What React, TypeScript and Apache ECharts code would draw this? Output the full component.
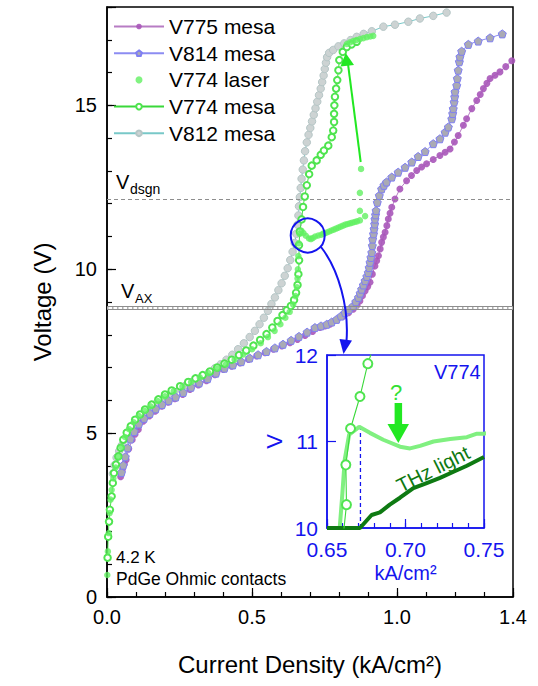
import React, { useEffect, useRef } from "react";
import * as echarts from "echarts";

const FONT = "'Liberation Sans', Arial, Helvetica, sans-serif";

// Current density (kA/cm²) vs. voltage (V) at 4.2 K
const v775Mesa: number[][] = [
  [0.047, 3.67], [0.054, 3.91], [0.060, 4.06], [0.066, 4.19], [0.075, 4.52], [0.087, 4.80], [0.097, 4.97],
  [0.108, 5.11], [0.125, 5.36], [0.146, 5.52], [0.166, 5.67], [0.189, 5.82], [0.211, 5.94], [0.234, 6.05],
  [0.261, 6.18], [0.286, 6.33], [0.315, 6.47], [0.343, 6.60], [0.372, 6.78], [0.401, 6.94], [0.430, 7.04],
  [0.459, 7.14], [0.488, 7.25], [0.516, 7.35], [0.545, 7.45], [0.574, 7.56], [0.603, 7.66], [0.631, 7.76],
  [0.657, 7.86], [0.683, 7.98], [0.709, 8.10], [0.734, 8.22], [0.752, 8.27], [0.769, 8.32], [0.792, 8.45],
  [0.815, 8.57], [0.833, 8.67], [0.849, 8.78], [0.862, 8.90], [0.872, 9.03], [0.881, 9.19], [0.890, 9.34],
  [0.899, 9.47], [0.907, 9.60], [0.915, 9.85], [0.924, 10.10], [0.930, 10.26], [0.936, 10.41], [0.942, 10.62],
  [0.947, 10.82], [0.953, 10.98], [0.959, 11.13], [0.965, 11.33], [0.970, 11.53], [0.976, 11.71], [0.982, 11.89],
  [0.993, 12.14], [1.010, 12.45], [1.033, 12.70], [1.050, 12.86], [1.068, 13.01], [1.085, 13.12], [1.102, 13.22],
  [1.125, 13.35], [1.148, 13.47], [1.166, 13.57], [1.183, 13.67], [1.198, 13.88], [1.211, 14.08], [1.229, 14.39],
  [1.240, 14.59], [1.258, 14.90], [1.275, 15.15], [1.287, 15.33], [1.298, 15.51], [1.310, 15.67], [1.321, 15.82],
  [1.338, 15.92], [1.355, 16.02], [1.375, 16.18], [1.396, 16.36],
];

const v814Mesa: number[][] = [
  [0.050, 3.80], [0.056, 4.02], [0.063, 4.28], [0.071, 4.55], [0.081, 4.82], [0.094, 5.05], [0.110, 5.28],
  [0.128, 5.45], [0.148, 5.60], [0.168, 5.74], [0.190, 5.87], [0.213, 5.99], [0.237, 6.10], [0.263, 6.24],
  [0.290, 6.40], [0.318, 6.53], [0.347, 6.66], [0.376, 6.83], [0.405, 6.98], [0.434, 7.08], [0.463, 7.18],
  [0.492, 7.29], [0.521, 7.39], [0.550, 7.49], [0.579, 7.60], [0.607, 7.71], [0.635, 7.83], [0.662, 7.95],
  [0.690, 8.08], [0.717, 8.22], [0.738, 8.27], [0.758, 8.32], [0.775, 8.39], [0.792, 8.47], [0.807, 8.57],
  [0.821, 8.68], [0.835, 8.77], [0.849, 8.88], [0.858, 9.01], [0.867, 9.14], [0.873, 9.27], [0.878, 9.39],
  [0.884, 9.52], [0.890, 9.65], [0.896, 9.78], [0.901, 9.90], [0.904, 10.05], [0.907, 10.21], [0.910, 10.36],
  [0.913, 10.51], [0.915, 10.72], [0.916, 10.92], [0.919, 11.08], [0.921, 11.23], [0.923, 11.38], [0.924, 11.53],
  [0.926, 11.66], [0.928, 11.79], [0.932, 12.04], [0.939, 12.25], [0.947, 12.45], [0.955, 12.56], [0.964, 12.66],
  [0.982, 12.81], [1.004, 12.96], [1.028, 13.11], [1.051, 13.27], [1.073, 13.44], [1.097, 13.59], [1.125, 13.83],
  [1.148, 13.98], [1.166, 14.18], [1.177, 14.34], [1.189, 14.59], [1.192, 14.75], [1.194, 14.90], [1.197, 15.10],
  [1.199, 15.26], [1.200, 15.41], [1.206, 15.61], [1.208, 15.82], [1.211, 16.07], [1.215, 16.33], [1.217, 16.48],
  [1.223, 16.65], [1.246, 16.86], [1.280, 16.96], [1.321, 17.06], [1.363, 17.18],
];

const v774Laser: number[][] = [
  [0.001, 0.67], [0.003, 1.39], [0.006, 1.95], [0.009, 2.56], [0.012, 2.97], [0.016, 3.27], [0.022, 3.62],
  [0.030, 3.95], [0.040, 4.28], [0.050, 4.58], [0.062, 4.88], [0.076, 5.12], [0.092, 5.33], [0.110, 5.52],
  [0.130, 5.68], [0.150, 5.82], [0.175, 5.98], [0.200, 6.12], [0.230, 6.28], [0.260, 6.42], [0.290, 6.56],
  [0.320, 6.70], [0.350, 6.83], [0.380, 6.97], [0.410, 7.10], [0.440, 7.24], [0.470, 7.40], [0.500, 7.56],
  [0.530, 7.74], [0.555, 7.93], [0.578, 8.12], [0.598, 8.32], [0.615, 8.52], [0.630, 8.70], [0.642, 8.92],
  [0.650, 9.18], [0.655, 9.45], [0.657, 9.72], [0.6581, 10.0], [0.6598, 10.40], [0.6613, 10.79], [0.6641, 11.08],
  [0.6705, 11.17], [0.6773, 11.10], [0.6858, 11.02], [0.6965, 10.94], [0.7029, 10.92], [0.7093, 10.95],
  [0.7178, 11.0], [0.7285, 11.03], [0.7391, 11.05], [0.7455, 11.09], [0.750, 11.09], [0.758, 11.12],
  [0.766, 11.15], [0.774, 11.18], [0.782, 11.21], [0.790, 11.24], [0.798, 11.27], [0.806, 11.30], [0.814, 11.33],
  [0.822, 11.36], [0.830, 11.38], [0.838, 11.40], [0.846, 11.42], [0.854, 11.44], [0.862, 11.46], [0.872, 11.49],
  [0.890, 11.62], [0.872, 11.78], [0.872, 12.33], [0.876, 13.06],
  [0.827, 16.87], [0.838, 16.92], [0.849, 16.96], [0.860, 16.99], [0.872, 17.02], [0.884, 17.05], [0.896, 17.08],
  [0.908, 17.10], [0.918, 17.12],
];

const v774Mesa: number[][] = [
  [0.002, 1.20], [0.004, 1.84], [0.007, 2.30], [0.010, 2.66], [0.016, 3.07], [0.020, 3.48], [0.024, 3.78],
  [0.031, 4.04], [0.039, 4.29], [0.047, 4.55], [0.056, 4.80], [0.068, 5.01], [0.082, 5.21], [0.097, 5.41],
  [0.114, 5.57], [0.131, 5.72], [0.154, 5.87], [0.177, 6.03], [0.200, 6.18], [0.223, 6.30], [0.252, 6.43],
  [0.280, 6.56], [0.305, 6.67], [0.330, 6.77], [0.355, 6.88], [0.380, 7.00], [0.405, 7.12], [0.430, 7.24],
  [0.455, 7.38], [0.480, 7.52], [0.505, 7.67], [0.528, 7.84], [0.550, 8.02], [0.570, 8.22], [0.588, 8.42],
  [0.605, 8.60], [0.620, 8.75], [0.634, 8.88], [0.645, 9.06], [0.652, 9.28], [0.657, 9.52], [0.660, 9.85],
  [0.6624, 10.27], [0.662, 10.73], [0.665, 11.15], [0.671, 11.52], [0.676, 11.90], [0.682, 12.22],
  [0.689, 12.56], [0.697, 12.90], [0.706, 13.16], [0.723, 13.32], [0.737, 13.49], [0.748, 13.62],
  [0.763, 13.77], [0.775, 14.03], [0.780, 14.23], [0.783, 14.49], [0.783, 14.74], [0.784, 15.00],
  [0.786, 15.26], [0.790, 15.51], [0.794, 15.77], [0.798, 16.07], [0.801, 16.38], [0.813, 16.63],
  [0.827, 16.78], [0.844, 16.86], [0.861, 16.94],
];

const v812Mesa: number[][] = [
  [0.020, 3.76], [0.026, 4.02], [0.033, 4.25], [0.042, 4.45], [0.051, 4.63], [0.060, 4.80], [0.070, 4.98],
  [0.080, 5.13], [0.092, 5.27], [0.105, 5.42], [0.120, 5.56], [0.137, 5.70], [0.155, 5.83], [0.173, 5.94],
  [0.192, 6.05], [0.212, 6.16], [0.232, 6.26], [0.252, 6.36], [0.272, 6.46], [0.292, 6.56], [0.312, 6.65],
  [0.332, 6.75], [0.352, 6.86], [0.372, 6.98], [0.392, 7.10], [0.412, 7.24], [0.432, 7.39], [0.452, 7.56],
  [0.472, 7.74], [0.492, 7.93], [0.510, 8.12], [0.526, 8.32], [0.541, 8.52], [0.555, 8.73], [0.567, 8.94],
  [0.579, 9.14], [0.591, 9.36], [0.602, 9.57], [0.613, 9.80], [0.623, 10.03], [0.632, 10.28], [0.640, 10.53],
  [0.647, 10.80], [0.653, 11.08], [0.657, 11.36], [0.660, 11.64], [0.662, 11.92], [0.665, 12.20],
  [0.668, 12.48], [0.671, 12.76], [0.675, 13.04], [0.679, 13.32], [0.683, 13.60], [0.689, 13.87],
  [0.695, 14.10], [0.701, 14.31], [0.707, 14.51], [0.713, 14.71], [0.719, 14.91], [0.725, 15.11],
  [0.731, 15.31], [0.737, 15.51], [0.742, 15.71], [0.747, 15.91], [0.751, 16.11], [0.755, 16.30],
  [0.759, 16.47], [0.766, 16.60], [0.780, 16.69], [0.798, 16.80], [0.818, 16.89], [0.840, 16.99],
  [0.861, 17.09], [0.885, 17.18], [0.913, 17.26], [0.953, 17.40], [0.993, 17.46], [1.039, 17.55],
  [1.079, 17.65], [1.125, 17.73], [1.171, 17.83],
];

// THz emission onset of V774 (inset, plotted on the inset voltage scale)
const thzLight: number[][] = [
  [0.650, 10.0], [0.671, 10.0], [0.6784, 10.15], [0.6837, 10.18], [0.690, 10.27], [0.6965, 10.35],
  [0.705, 10.46], [0.7135, 10.52], [0.722, 10.58], [0.7306, 10.65], [0.7391, 10.72], [0.750, 10.82],
];

const thzOnset = [0.6713, 10.0, 11.17]; // x, from V, to V
const vDesign = 12.12;
const vAxLines = [8.86, 8.77];
const xMajorLabels = [0, 0.5, 1.0, 1.4];
const yMajorLabels = [0, 5, 10, 15];
const insetXLabels = [0.65, 0.7, 0.75];

const legendNames = ["V775 mesa", "V814 mesa", "V774 laser", "V774 mesa", "V812 mesa"];

const BLUE = "#1414ee";
const GREEN = "#22e822";
const MESA_GREEN = "#4fe44f";
const PENTAGON = "path://M0,-1L0.951,-0.309L0.588,0.809L-0.588,0.809L-0.951,-0.309Z";

const near = (v: number, list: number[]) => list.some((l) => Math.abs(v - l) < 1e-6);

export default function App() {
  const ref = useRef<HTMLDivElement>(null);

  useEffect(() => {
    if (!ref.current) return;
    const chart = echarts.init(ref.current, undefined, { renderer: "svg" });

    const tickLabel = { fontFamily: FONT, fontSize: 20, color: "#000", margin: 10 };
    const blueLabel = { fontFamily: FONT, fontSize: 21, color: BLUE, lineHeight: 15 };

    chart.setOption({
      animation: false,
      backgroundColor: "#fff",
      textStyle: { fontFamily: FONT },
      grid: [
        { left: 107, right: 25, top: 7, bottom: 89, show: true, borderColor: "#000", borderWidth: 1.5, backgroundColor: "transparent", z: 0 },
        { left: 327, top: 355, width: 157, height: 173, show: true, borderColor: BLUE, borderWidth: 1.5, backgroundColor: "#fff", z: 0 },
      ],
      legend: {
        data: legendNames,
        orient: "vertical",
        left: 113,
        top: 16,
        padding: 0,
        itemWidth: 50,
        itemHeight: 7,
        itemGap: 5.7,
        selectedMode: false,
        textStyle: { fontFamily: FONT, fontSize: 21, color: "#000", lineHeight: 21 },
      },
      xAxis: [
        {
          type: "value", gridIndex: 0, min: 0, max: 1.4, interval: 0.1, position: "bottom",
          name: "Current Density (kA/cm²)", nameLocation: "middle", nameGap: 55,
          nameTextStyle: { fontFamily: FONT, fontSize: 24, color: "#000" },
          axisLine: { lineStyle: { color: "#000", width: 1.5 } },
          axisTick: { inside: true, length: 5, lineStyle: { color: "#000", width: 1.2 } },
          axisLabel: { ...tickLabel, formatter: (v: number) => (near(v, xMajorLabels) ? v.toFixed(1) : "") },
          splitLine: { show: false },
        },
        {
          type: "value", gridIndex: 0, min: 0, max: 1.4, interval: 0.5, position: "bottom",
          axisLine: { show: false },
          axisTick: { inside: true, length: 9, lineStyle: { color: "#000", width: 1.2 } },
          axisLabel: { show: false }, splitLine: { show: false },
        },
        {
          type: "value", gridIndex: 1, min: 0.65, max: 0.75, interval: 0.01, position: "bottom",
          name: "kA/cm²", nameLocation: "middle", nameGap: 35,
          nameTextStyle: { fontFamily: FONT, fontSize: 20, color: BLUE },
          axisLine: { lineStyle: { color: BLUE, width: 1.5 } },
          axisTick: { inside: true, length: 5, lineStyle: { color: BLUE, width: 1.2 } },
          axisLabel: { ...blueLabel, margin: 14, formatter: (v: number) => (near(v, insetXLabels) ? v.toFixed(2) : "") },
          splitLine: { show: false },
        },
        {
          type: "value", gridIndex: 1, min: 0.65, max: 0.75, interval: 0.05, position: "bottom",
          axisLine: { show: false },
          axisTick: { inside: true, length: 9, lineStyle: { color: BLUE, width: 1.2 } },
          axisLabel: { show: false }, splitLine: { show: false },
        },
      ],
      yAxis: [
        {
          type: "value", gridIndex: 0, min: 0, max: 18, interval: 1, position: "left",
          name: "Voltage (V)", nameLocation: "middle", nameGap: 53, nameRotate: 90,
          nameTextStyle: { fontFamily: FONT, fontSize: 24, color: "#000" },
          axisLine: { lineStyle: { color: "#000", width: 1.5 } },
          axisTick: { inside: true, length: 5, lineStyle: { color: "#000", width: 1.2 } },
          axisLabel: { ...tickLabel, formatter: (v: number) => (near(v, yMajorLabels) ? String(v) : "") },
          splitLine: { show: false },
        },
        {
          type: "value", gridIndex: 0, min: 0, max: 18, interval: 5, position: "left",
          axisLine: { show: false },
          axisTick: { inside: true, length: 9, lineStyle: { color: "#000", width: 1.2 } },
          axisLabel: { show: false }, splitLine: { show: false },
        },
        {
          type: "value", gridIndex: 1, min: 10, max: 12, interval: 1, position: "left",
          name: "V", nameLocation: "middle", nameGap: 42, nameRotate: 90,
          nameTextStyle: { fontFamily: FONT, fontSize: 22, color: BLUE },
          axisLine: { lineStyle: { color: BLUE, width: 1.5 } },
          axisTick: { inside: true, length: 9, lineStyle: { color: BLUE, width: 1.2 } },
          axisLabel: { ...blueLabel, margin: 9 },
          splitLine: { show: false },
        },
      ],
      series: [
        {
          name: "V812 mesa", type: "line", xAxisIndex: 0, yAxisIndex: 0, data: v812Mesa,
          symbol: "circle", symbolSize: 7.5,
          itemStyle: { color: "#cdd3d3", borderColor: "#b5c6c6", borderWidth: 1 },
          lineStyle: { color: "#78c8c8", width: 1 },
          z: 2,
        },
        {
          name: "V775 mesa", type: "line", xAxisIndex: 0, yAxisIndex: 0, data: v775Mesa,
          symbol: "circle", symbolSize: 7,
          itemStyle: { color: "#a956b9", opacity: 0.9 },
          lineStyle: { color: "#b77cc4", width: 1 },
          z: 3,
          markLine: {
            silent: true, symbol: ["none", "none"], label: { show: false }, animation: false,
            data: [
              { yAxis: vDesign, lineStyle: { color: "#8e8e8e", width: 1, type: [4, 3] } },
              { yAxis: vAxLines[0], lineStyle: { color: "#8e8e8e", width: 1, type: "solid" } },
              { yAxis: vAxLines[1], lineStyle: { color: "#8e8e8e", width: 1, type: "solid" } },
              { yAxis: (vAxLines[0] + vAxLines[1]) / 2, lineStyle: { color: "#b0b0b0", width: 2, type: [1.5, 3.5] } },
            ],
          },
        },
        {
          name: "V814 mesa", type: "line", xAxisIndex: 0, yAxisIndex: 0, data: v814Mesa,
          symbol: PENTAGON, symbolSize: 8,
          itemStyle: { color: "#aaaab4", borderColor: "#7f7ff2", borderWidth: 1 },
          lineStyle: { color: "#8c8cf2", width: 1 },
          z: 4,
        },
        {
          name: "V774 mesa", type: "line", xAxisIndex: 0, yAxisIndex: 0, data: v774Mesa,
          symbol: "emptyCircle", symbolSize: 6.5,
          itemStyle: { color: MESA_GREEN, borderWidth: 0.8 },
          lineStyle: { color: "#3ad83a", width: 0.9 },
          z: 5,
        },
        {
          name: "V774 laser", type: "scatter", xAxisIndex: 0, yAxisIndex: 0, data: v774Laser,
          symbol: "circle", symbolSize: 6.5,
          itemStyle: { color: "#62f062" },
          z: 6,
        },
        // inset
        {
          name: "V774 laser (inset)", type: "line", xAxisIndex: 2, yAxisIndex: 2, data: v774Laser,
          showSymbol: false, clip: true,
          lineStyle: { color: "#80f080", width: 4 },
          z: 5,
        },
        {
          name: "THz light", type: "line", xAxisIndex: 2, yAxisIndex: 2, data: thzLight,
          showSymbol: false, clip: true,
          lineStyle: { color: "#0e7a12", width: 4 },
          z: 6,
        },
        {
          name: "THz onset", type: "line", xAxisIndex: 2, yAxisIndex: 2,
          data: [[thzOnset[0], thzOnset[1]], [thzOnset[0], thzOnset[2]]],
          showSymbol: false, clip: true,
          lineStyle: { color: BLUE, width: 1.3, type: [4, 3] },
          z: 4,
        },
        {
          name: "V774 mesa (inset)", type: "line", xAxisIndex: 2, yAxisIndex: 2, data: v774Mesa,
          symbol: "emptyCircle", symbolSize: 9, clip: true,
          itemStyle: { color: MESA_GREEN, borderWidth: 1.1 },
          lineStyle: { color: "#3ad83a", width: 1.1 },
          z: 7,
        },
      ],
      graphic: [
        // design and AX voltage labels
        { type: "text", left: 116, top: 172, style: { text: "V", font: `20px ${FONT}`, fill: "#000" } },
        { type: "text", left: 130, top: 182, style: { text: "dsgn", font: `14px ${FONT}`, fill: "#000" } },
        { type: "text", left: 121, top: 281, style: { text: "V", font: `20px ${FONT}`, fill: "#000" } },
        { type: "text", left: 135, top: 292, style: { text: "AX", font: `13px ${FONT}`, fill: "#000" } },
        // measurement conditions
        { type: "text", left: 116, top: 549, style: { text: "4.2 K", font: `17px ${FONT}`, fill: "#000" } },
        { type: "text", left: 116, top: 570, style: { text: "PdGe Ohmic contacts", font: `17.5px ${FONT}`, fill: "#000" } },
        // zoom circle and arrow into the inset
        { type: "circle", shape: { cx: 307.7, cy: 235.5, r: 17 }, style: { fill: "none", stroke: BLUE, lineWidth: 2 }, z: 20 },
        {
          type: "bezierCurve",
          shape: { x1: 321, y1: 247, cpx1: 339, cpy1: 270, cpx2: 349, cpy2: 308, x2: 346.5, y2: 341 },
          style: { fill: "none", stroke: BLUE, lineWidth: 2 }, z: 20,
        },
        { type: "polygon", shape: { points: [[339.5, 339], [352, 340.5], [343.5, 354]] }, style: { fill: BLUE }, z: 20 },
        // green arrow from the laser points to the top branch
        { type: "line", shape: { x1: 360.7, y1: 162, x2: 348, y2: 64 }, style: { stroke: GREEN, lineWidth: 2 }, z: 20 },
        { type: "polygon", shape: { points: [[345.7, 53], [340.5, 66.5], [354, 65]] }, style: { fill: GREEN }, z: 20 },
        // inset annotations
        { type: "text", left: 434, top: 362, style: { text: "V774", font: `20px ${FONT}`, fill: BLUE }, z: 20 },
        { type: "text", left: 390, top: 381, style: { text: "?", font: `22px ${FONT}`, fill: "#33e033" }, z: 20 },
        { type: "rect", shape: { x: 394.6, y: 403, width: 7.5, height: 23 }, style: { fill: GREEN }, z: 20 },
        { type: "polygon", shape: { points: [[387.5, 424], [409, 424], [398.3, 443]] }, style: { fill: GREEN }, z: 20 },
        {
          type: "text", x: 433, y: 469, rotation: (26.6 * Math.PI) / 180,
          style: { text: "THz light", font: `20px ${FONT}`, fill: "#0e7a12", align: "center", verticalAlign: "middle" },
          z: 20,
        },
      ],
    });

    return () => chart.dispose();
  }, []);

  return (
    <div
      ref={ref}
      style={{ position: "fixed", left: 0, top: 0, width: 538, height: 686, background: "#fff" }}
    />
  );
}
